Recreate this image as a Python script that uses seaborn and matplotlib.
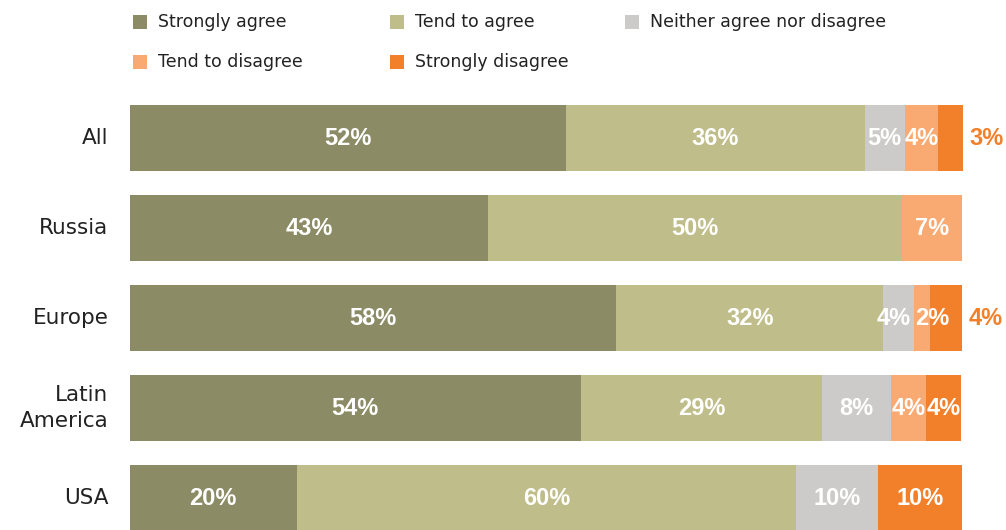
import numpy as np
import pandas as pd
import matplotlib
matplotlib.use("Agg")
import matplotlib.pyplot as plt
import seaborn as sns
from matplotlib.patches import Rectangle

# ---- data ----
regions = ["All", "Russia", "Europe", "Latin\nAmerica", "USA"]
series = ["Strongly agree", "Tend to agree", "Neither agree nor disagree",
          "Tend to disagree", "Strongly disagree"]
# bar lengths (percent)
strongly_agree = [52.3, 43.0, 58.4, 54.1, 20.0]
tend_agree = [35.9, 49.7, 32.0, 29.0, 60.0]
neither = [4.8, 0.0, 3.7, 8.3, 9.8]
tend_disagree = [4.0, 7.2, 1.9, 4.2, 0.0]
strongly_disagree = [3.0, 0.0, 3.9, 4.2, 10.1]
# printed labels
labels_sa = ["52%", "43%", "58%", "54%", "20%"]
labels_ta = ["36%", "50%", "32%", "29%", "60%"]
labels_n = ["5%", "", "4%", "8%", "10%"]
labels_td = ["4%", "7%", "2%", "4%", ""]
labels_sd = ["3%", "", "4%", "4%", "10%"]
colors = ["#8b8b65", "#bfbd8a", "#cccbc9", "#f9aa73", "#f2802a"]

values = [strongly_agree, tend_agree, neither, tend_disagree, strongly_disagree]
labels = [labels_sa, labels_ta, labels_n, labels_td, labels_sd]

# layout tweaks
outside_label_regions = ["All", "Europe"]
label_nudge = {("Europe", 2): -0.6, ("Europe", 3): 1.3}

sns.set_theme(style="white")
plt.rcParams["font.family"] = ["DejaVu Sans"]

fig = plt.figure(figsize=(10.06, 5.30), dpi=100)
ax = fig.add_axes([130 / 1006, 0, 833 / 1006, 435 / 530])

cum = np.zeros(len(regions))
cums = []
for v in values:
    cum = cum + np.array(v)
    cums.append(cum.copy())

# draw largest cumulative first so that shorter ones overlay
for i in reversed(range(len(series))):
    d = pd.DataFrame({"region": regions, "x": cums[i]})
    sns.barplot(data=d, x="x", y="region", order=regions, color=colors[i],
                width=0.73, ax=ax, saturation=1, orient="h",
                linewidth=0, edgecolor="none")

ax.set_xlim(0, 100)
ax.set_ylim(4.355, -0.478)
ax.set_xlabel("")
ax.set_ylabel("")
ax.set_xticks([])
ax.set_yticks([])
for s in ax.spines.values():
    s.set_visible(False)

# value labels
for r, reg in enumerate(regions):
    left = 0
    for i, v in enumerate(values):
        val = v[r]
        lab = labels[i][r]
        if lab:
            if i == 4 and reg in outside_label_regions:
                ax.text(left + val + 2.8, r, lab, ha="center", va="center",
                        color=colors[4], fontsize=17, fontweight="bold",
                        family="Liberation Sans", clip_on=False)
            else:
                x = left + val / 2 + label_nudge.get((reg, i), 0)
                ax.text(x, r, lab, ha="center", va="center",
                        color="white", fontsize=17, fontweight="bold",
                        family="Liberation Sans", clip_on=False)
        left += val
    # category label
    ax.text(-2.6, r, reg, ha="right", va="center", fontsize=15.5,
            color="#222222", clip_on=False, linespacing=1.35)

# legend (manual, fixed grid)
col_x = [133, 390, 625]
row_y = [22, 62]
legend_pos = [(0, 0), (1, 0), (2, 0), (0, 1), (1, 1)]
W, H = 1006, 530
for i, name in enumerate(series):
    c, rr = legend_pos[i]
    x0, yc = col_x[c], row_y[rr]
    fig.add_artist(Rectangle((x0 / W, 1 - (yc + 7) / H), 14 / W, 14 / H,
                             transform=fig.transFigure, color=colors[i], lw=0))
    fig.text((x0 + 25) / W, 1 - yc / H, name, ha="left", va="center",
             fontsize=12.5, color="#222222")

fig.savefig("out.png", dpi=100)
